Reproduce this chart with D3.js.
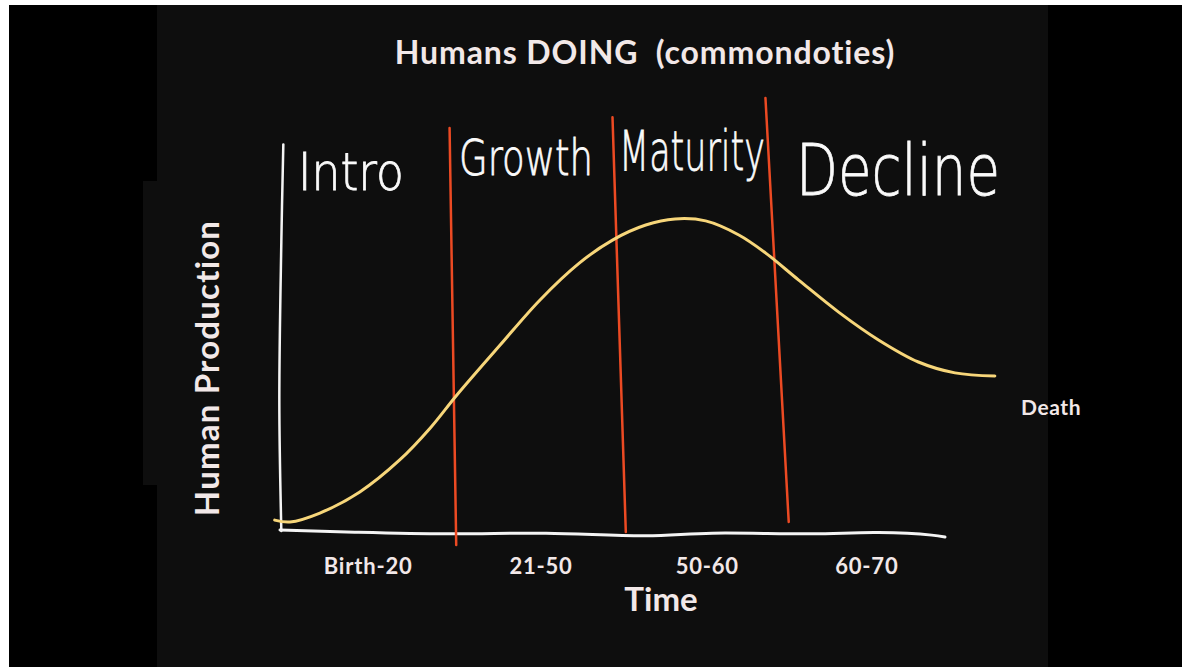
<!DOCTYPE html>
<html>
<head>
<meta charset="utf-8">
<script src="https://cdn.jsdelivr.net/npm/d3@7"></script>
<style>
  html, body { margin: 0; padding: 0; background: #fff; }
  svg { display: block; }
  .lbl { font-family: Lato, "Open Sans", sans-serif; font-weight: 700; fill: #f2e8e8; }
  .hand { font-family: "DejaVu Sans", sans-serif; font-weight: 200; fill: #fafafa; stroke: #fafafa; stroke-width: 0.8; }
</style>
</head>
<body>
<svg></svg>
<script>
// datos de la gráfica
var phases = ['Birth-20', '21-50', '50-60', '60-70'];
var phaseNames = ['Intro', 'Growth', 'Maturity', 'Decline'];
// limites de fase (t arriba, t abajo, p arriba, p abajo)
var boundTop = [25.5, 50, 73];
var boundBottom = [26.5, 52, 76.5];
var boundTopP = [125.6, 129, 135];
var boundBottomP = [-4.7, -0.6, 2.5];
// curva de produccion
var curveT = [-0.8, 1.5, 6, 12, 18, 22.6, 26.6, 33.1, 39.1, 45, 50, 55, 59.4, 64, 69, 73, 78, 84, 90, 96, 101.5, 107.5];
var curveP = [3.1, 2.5, 5.3, 11.9, 21.9, 31.9, 42.2, 57.8, 71.9, 83.4, 90.6, 95.3, 97.2, 96.6, 92.2, 86.6, 78.1, 68.1, 59.4, 52.5, 49.1, 48.1];
// ejes dibujados a mano
var xAxisT = [0, 10, 25, 40, 55, 65, 80, 90, 98, 100];
var xAxisP = [0, -0.6, -1.2, -1.0, -1.8, -1.0, -1.2, -0.8, -1.6, -2.2];
var yAxisT = [0.2, -0.1, 0.2, 0.5];
var yAxisP = [-0.3, 40, 90, 120.5];

var W = 1182, H = 667;
var svg = d3.select('svg').attr('width', W).attr('height', H);

// fondos
svg.append('rect').attr('x', 9).attr('y', 5).attr('width', W - 9).attr('height', H - 5).attr('fill', '#000');
svg.append('rect').attr('x', 157).attr('y', 5).attr('width', 891).attr('height', H - 5).attr('fill', '#0e0e0e');
svg.append('rect').attr('x', 143).attr('y', 181).attr('width', 14).attr('height', 304).attr('fill', '#0e0e0e');

var x = d3.scaleLinear().domain([0, 100]).range([280, 945]);
var y = d3.scaleLinear().domain([0, 100]).range([530, 210]);

var line = d3.line().x(function(d){return x(d[0])}).y(function(d){return y(d[1])}).curve(d3.curveCatmullRom);

// eje x
svg.append('path')
  .datum(xAxisT.map(function(t, i){return [t, xAxisP[i]]}))
  .attr('d', line).attr('fill', 'none').attr('stroke', '#f4f4f4').attr('stroke-width', 3).attr('stroke-linecap', 'round');

// eje y
svg.append('path')
  .datum(yAxisT.map(function(t, i){return [t, yAxisP[i]]}))
  .attr('d', line).attr('fill', 'none').attr('stroke', '#f4f4f4').attr('stroke-width', 2.5).attr('stroke-linecap', 'round');

// lineas rojas
svg.selectAll('.bound')
  .data(boundTop)
  .enter()
  .append('line')
  .attr('class', 'bound')
  .attr('x1', function(d){return x(d)})
  .attr('y1', function(d, i){return y(boundTopP[i])})
  .attr('x2', function(d, i){return x(boundBottom[i])})
  .attr('y2', function(d, i){return y(boundBottomP[i])})
  .attr('stroke', '#ec4a23').attr('stroke-width', 2.5).attr('stroke-linecap', 'round');

// curva amarilla
svg.append('path')
  .datum(curveT.map(function(t, i){return [t, curveP[i]]}))
  .attr('d', line).attr('fill', 'none').attr('stroke', '#f7d67a').attr('stroke-width', 3).attr('stroke-linecap', 'round');

// etiquetas de fase (escritas a mano), estiradas en x para ocupar su ancho
var handX = [298, 459, 619, 796];
var handY = [190, 175, 170, 195];
var handW = [106, 134, 146, 204];
var handS = [52, 50, 56, 72];
svg.selectAll('.hand')
  .data(phaseNames)
  .enter()
  .append('text')
  .attr('class', 'hand')
  .style('font-size', function(d, i){return handS[i] + 'px'})
  .text(function(d){return d})
  .attr('transform', function(d, i){
    var len = this.getComputedTextLength();
    return 'translate(' + handX[i] + ',' + handY[i] + ') scale(' + (handW[i] / len) + ',1)';
  });

// ticks
var edges = [0].concat(boundBottom).concat([100]);
svg.selectAll('.tick')
  .data(phases)
  .enter()
  .append('text')
  .attr('class', 'lbl tick')
  .attr('x', function(d, i){return x((edges[i] + edges[i + 1]) / 2)})
  .attr('y', 574)
  .attr('text-anchor', 'middle')
  .style('font-size', '22px')
  .style('letter-spacing', '0.8px')
  .text(function(d){return d});

svg.append('text').attr('class', 'lbl').attr('x', 645).attr('y', 64)
  .attr('text-anchor', 'middle').style('font-size', '32px')
  .style('letter-spacing', '0.9px').style('white-space', 'pre')
  .text('Humans DOING  (commondoties)');

svg.append('text').attr('class', 'lbl').attr('x', 661).attr('y', 611)
  .attr('text-anchor', 'middle').style('font-size', '33px').text('Time');

svg.append('text').attr('class', 'lbl')
  .attr('transform', 'translate(219,368) rotate(-90)')
  .attr('text-anchor', 'middle').style('font-size', '33px')
  .style('letter-spacing', '1.2px')
  .text('Human Production');

svg.append('text').attr('class', 'lbl').attr('x', 1021).attr('y', 415)
  .style('font-size', '21px').style('letter-spacing', '0.6px').text('Death');
</script>
</body>
</html>
